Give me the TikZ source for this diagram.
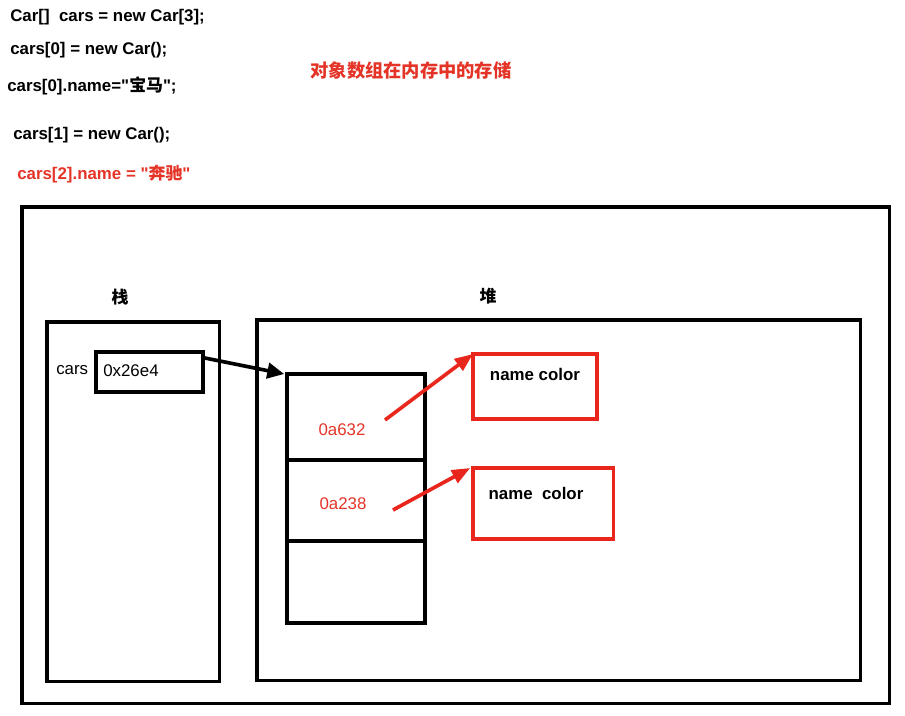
\documentclass[tikz,border=0pt]{standalone}
\usepackage{fontspec}
\setmainfont{Liberation Sans}
\newfontfamily\cjk{Noto Sans CJK SC}
\usetikzlibrary{arrows.meta}
\definecolor{arrowred}{RGB}{232,38,28}
\definecolor{textred}{RGB}{228,52,40}
\begin{document}
\begin{tikzpicture}[x=0.025cm,y=-0.025cm,
  box/.style={draw,line width=2.2pt,inner sep=0pt,outer sep=0pt,anchor=north west},
  objbox/.style={box,draw=arrowred},
  codetext/.style={anchor=west,inner sep=0pt,font=\fontsize{12}{14}\selectfont\bfseries},
  plaintext/.style={inner sep=0pt,font=\fontsize{12}{14}\selectfont},
  ptrarrow/.style={line width=2.6pt,-{Triangle[length=12pt,width=11pt]}},
  refarrow/.style={ptrarrow,draw=arrowred,-{Triangle[length=13pt,width=10pt]}}]
\useasboundingbox (0,0) rectangle (905,715);
\node[codetext] (code0) at (10,17) {Car[]\ \ cars = new Car[3];};
\node[codetext] (code1) at (10,50) {cars[0] = new Car();};
\node[codetext] (code2) at (7,86) {cars[0].name=\textquotedbl{\cjk 宝马}\textquotedbl;};
\node[codetext] (code3) at (13,135) {cars[1] = new Car();};
\node[codetext, textred] (code4) at (17,174) {cars[2].name = \textquotedbl{\cjk 奔驰}\textquotedbl};
\node[inner sep=0pt, text=textred, font=\cjk\fontsize{13}{15}\selectfont\bfseries] (title) at (411,71) {对象数组在内存中的存储};
\node[box, minimum width=21.675cm, minimum height=12.4cm] (memory) at (22,207) {};
\node[inner sep=0pt, font=\cjk\fontsize{12}{14}\selectfont\bfseries] (stacklabel) at (120,297) {栈};
\node[inner sep=0pt, font=\cjk\fontsize{12}{14}\selectfont\bfseries] (heaplabel) at (488,296) {堆};
\node[box, minimum width=4.3cm, minimum height=8.975cm] (stack) at (47,322) {};
\node[box, minimum width=15.075cm, minimum height=9cm] (heap) at (257,320) {};
\node[plaintext, anchor=west] (carsname) at (56,370) {cars};
\node[box, minimum width=2.675cm, minimum height=1cm] (ptr) at (96,352) {};
\node[plaintext, anchor=west] (ptrvalue) at (103,371) {0x26e4};
\node[box, minimum width=3.45cm, minimum height=2.15cm] (cell0) at (287,374) {};
\node[box, minimum width=3.45cm, minimum height=2.025cm] (cell1) at (287,460) {};
\node[box, minimum width=3.45cm, minimum height=2.05cm] (cell2) at (287,541) {};
\node[plaintext, textred] (addr0) at (342,430) {0a632};
\node[plaintext, textred] (addr1) at (343,504) {0a238};
\node[objbox, minimum width=3.1cm, minimum height=1.625cm] (obj0) at (473,354) {};
\node[objbox, minimum width=3.5cm, minimum height=1.775cm] (obj1) at (473,468) {};
\node[codetext, anchor=center] (fields0) at (535,374) {name color};
\node[codetext, anchor=center] (fields1) at (536,493) {name\ \ color};
\coordinate (src0) at (385,420);
\coordinate (src1) at (393,510);
\draw[ptrarrow] ([yshift=-4pt]ptr.north east) -- ([xshift=-2pt]cell0.north west);
\draw[refarrow] (src0) -- (obj0.north west);
\draw[refarrow] (src1) -- ([xshift=-2pt]obj1.north west);
\end{tikzpicture}
\end{document}
